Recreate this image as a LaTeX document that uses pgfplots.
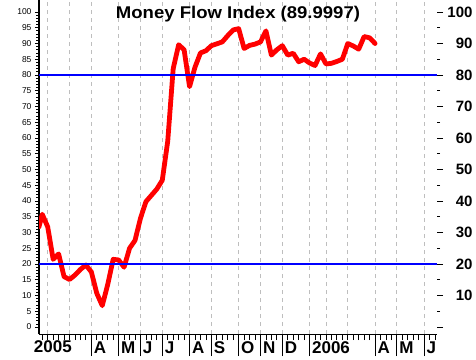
\documentclass[border=0pt]{standalone}
\usepackage{pgfplots}
\pgfplotsset{compat=1.18}
\usepackage{fontspec}
\setmainfont{Liberation Sans}
\definecolor{gridgray}{RGB}{190,190,190}
\begin{document}
\begin{tikzpicture}[x=1pt,y=1pt]
\useasboundingbox (-39,-25) rectangle (437,334);
\pgfplotsset{
  base/.style={scale only axis, width=398pt, height=334pt, at={(0,0)}, anchor=south west,
    xmin=-1.595, xmax=71.35, ymin=-2.2, ymax=103.8,
    /pgf/number format/assume math mode=true},
}
% main axis: left scale, grid, data
\begin{axis}[base,
  axis x line*=bottom, axis y line*=left,
  axis line style={black, line width=1pt, -},
  xtick={0,4,8,13,17,21,26,30,35,39,43,48,51,55,60,64,69},
  xticklabel=\empty,
  major x tick style={draw=none},
  xmajorgrids, x grid style={gridgray, dash pattern=on 4pt off 4pt, line width=0.8pt},
  ytick={0,5,...,100}, minor y tick num=4, tick align=outside,
  major tick length=4pt, minor tick length=2.5pt,
  every tick/.style={black, line width=0.8pt},
  yticklabel style={font=\fontsize{8.5}{9}\selectfont},
]
\addplot[red, line width=4.8pt, line join=round, line cap=round] coordinates {
(-1.6,31.8) (-1,35.8) (0,31.8) (1,21.5) (2,23.2) (3,16) (4,15.1) (5,16.5) (6,18.3)
(7,19.7) (8,17.5) (9,10.7) (10,6.8) (11,13.5) (12,21.5) (13,21.3) (14,19) (15,25)
(16,27.5) (17,34.5) (18,39.8) (19,41.8) (20,43.8) (21,46.6) (22,59) (23,82) (24,89.6)
(25,88) (26,76.3) (27,82.5) (28,87) (29,87.7) (30,89.3) (31,89.9) (32,90.5) (33,92.5)
(34,94.3) (35,94.7) (36,88.4) (37,89.4) (38,89.8) (39,90.5) (40,94) (41,86.3) (42,88)
(43,89.3) (44,86.3) (45,86.9) (46,84.2) (47,85) (48,83.8) (49,83) (50,86.7) (51,83.5)
(52,83.7) (53,84.3) (54,85) (55,90) (56,89.2) (57,88.2) (58,92.2) (59,91.8) (60,90)
};
\addplot[blue, line width=2.2pt] coordinates {(-1.595,80) (71.35,80)};
\addplot[blue, line width=2.2pt] coordinates {(-1.595,20) (71.35,20)};
\end{axis}
% bottom month ticks and labels
\begin{axis}[base,
  axis x line*=bottom, hide y axis,
  x axis line style={draw=none},
  xtick={8,13,17,21,26,30,35,39,43,48,60,64,69},
  xticklabels={A,M,J,J,A,S,O,N,D,2006,A,M,J},
  minor xtick={-1,0,...,71},
  tick align=outside, major tick length=22pt, minor tick length=6pt,
  every tick/.style={black, line width=0.8pt},
  xticklabel style={anchor=north west, font=\bfseries\fontsize{17}{17}\selectfont, xshift=-1pt, yshift=18pt},
]
\end{axis}
% right scale
\begin{axis}[base,
  axis y line*=right, hide x axis,
  y axis line style={draw=none},
  ytick={0,10,...,100},
  yticklabels={,10,20,30,40,50,60,70,80,90,100},
  minor ytick={5,15,...,95},
  tick align=outside, major tick length=6pt, minor tick length=3pt,
  every tick/.style={black, line width=0.8pt},
  yticklabel style={anchor=east, font=\bfseries\fontsize{15}{15}\selectfont, xshift=33pt},
]
\end{axis}
\node[anchor=north east, inner sep=0pt, font=\bfseries\fontsize{17}{17}\selectfont] at (33,-6) {2005};
\node[anchor=base, inner sep=0pt, xscale=1.09, font=\bfseries\fontsize{17}{17}\selectfont] at (199,315.5) {Money Flow Index (89.9997)};
\end{tikzpicture}
\end{document}
